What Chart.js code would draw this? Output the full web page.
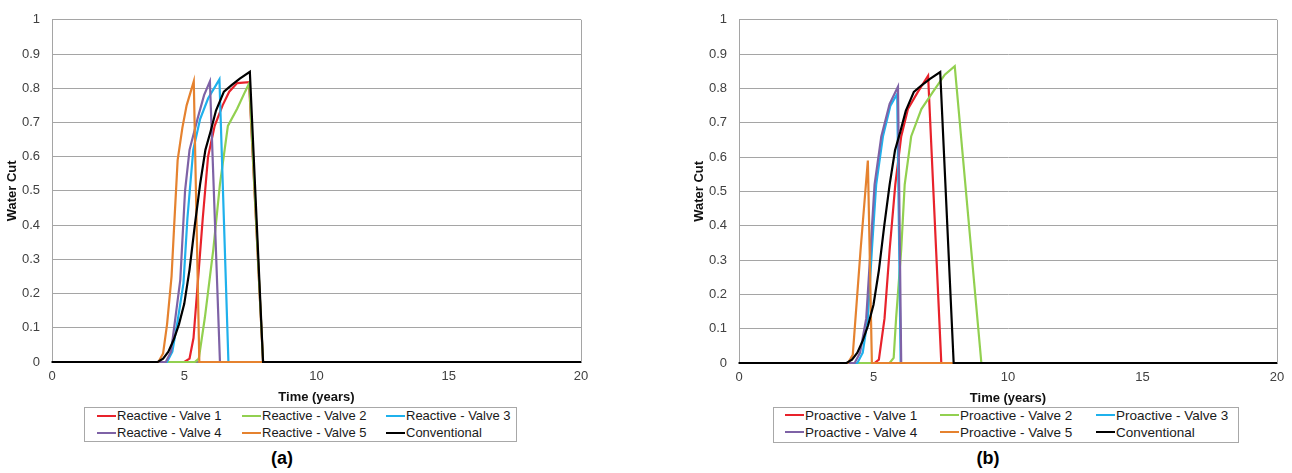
<!DOCTYPE html>
<html>
<head>
<meta charset="utf-8">
<script src="https://cdn.jsdelivr.net/npm/chart.js@4.4.1/dist/chart.umd.min.js"></script>
<style>
  body { margin: 0; background: #fff; width: 1292px; height: 473px; position: relative; overflow: hidden;
         font-family: "Liberation Sans", Arial, sans-serif; }
  canvas { position: absolute; top: 0; }
  .legend { position: absolute; top: 407px; border: 1px solid #a8a8a8; box-sizing: border-box; }
  .item { position: absolute; white-space: nowrap; color: #1a1a1a; line-height: 16px; }
  .item i { display: inline-block; width: 19px; height: 2px; vertical-align: middle; margin: 0 1px 2px 0; }
  .tag { position: absolute; top: 458px; font-weight: bold; font-size: 18px; transform: translate(-50%, -50%); }
</style>
</head>
<body>
<canvas id="chartA" width="600" height="405" style="left:0"></canvas>
<canvas id="chartB" width="605" height="406" style="left:687px"></canvas>
<div class="legend" id="legendA" style="left:84px; width:433px; height:35px; font-size:13px"></div>
<div class="legend" id="legendB" style="left:773px; width:466px; height:36px; font-size:13.5px"></div>
<div class="tag" style="left:282px">(a)</div>
<div class="tag" style="left:988px">(b)</div>
<script>
// conventional completion, shared by both panels
const convT  = [0, 4.0, 4.2, 4.4, 4.6, 4.8, 5.0, 5.2, 5.4, 5.6, 5.8, 6.0, 6.2, 6.5, 6.8, 7.1, 7.48, 7.98, 20];
const convWc = [0, 0, 0.01, 0.03, 0.065, 0.11, 0.17, 0.27, 0.40, 0.52, 0.62, 0.675, 0.735, 0.79, 0.81, 0.828, 0.848, 0, 0];

// reactive valve control
const reactiveT1  = [0, 5.0, 5.2, 5.35, 5.5, 5.7, 5.9, 6.15, 6.45, 6.7, 7.0, 7.45, 7.98, 20];
const reactiveWc1 = [0, 0, 0.01, 0.07, 0.22, 0.42, 0.60, 0.69, 0.75, 0.79, 0.815, 0.818, 0, 0];
const reactiveT2  = [0, 5.4, 5.55, 5.78, 6.1, 6.35, 6.65, 7.0, 7.3, 7.46, 7.98, 20];
const reactiveWc2 = [0, 0, 0.01, 0.13, 0.33, 0.52, 0.69, 0.74, 0.79, 0.815, 0, 0];
const reactiveT3  = [0, 4.35, 4.55, 4.75, 4.97, 5.12, 5.34, 5.6, 5.9, 6.33, 6.67, 20];
const reactiveWc3 = [0, 0, 0.03, 0.12, 0.23, 0.42, 0.62, 0.71, 0.77, 0.826, 0, 0];
const reactiveT4  = [0, 4.3, 4.5, 4.7, 4.85, 5.03, 5.2, 5.5, 5.75, 5.97, 6.35, 20];
const reactiveWc4 = [0, 0, 0.03, 0.15, 0.24, 0.50, 0.62, 0.71, 0.78, 0.82, 0, 0];
const reactiveT5  = [0, 4.02, 4.2, 4.35, 4.52, 4.62, 4.75, 4.93, 5.09, 5.36, 5.57, 20];
const reactiveWc5 = [0, 0, 0.025, 0.11, 0.25, 0.40, 0.59, 0.685, 0.75, 0.82, 0, 0];

// proactive valve control
const proactiveT1  = [0, 5.04, 5.2, 5.41, 5.6, 5.81, 6.03, 6.28, 6.65, 7.03, 7.52, 20];
const proactiveWc1 = [0, 0, 0.01, 0.13, 0.33, 0.52, 0.66, 0.74, 0.79, 0.837, 0, 0];
const proactiveT2  = [0, 5.6, 5.75, 5.84, 6.03, 6.16, 6.40, 6.78, 7.21, 7.65, 8.02, 9.01, 20];
const proactiveWc2 = [0, 0, 0.015, 0.13, 0.33, 0.52, 0.66, 0.74, 0.79, 0.84, 0.865, 0, 0];
const proactiveT3  = [0, 4.4, 4.6, 4.79, 4.94, 5.10, 5.35, 5.63, 5.88, 6.01, 20];
const proactiveWc3 = [0, 0, 0.03, 0.13, 0.33, 0.52, 0.66, 0.75, 0.784, 0, 0];
const proactiveT4  = [0, 4.3, 4.5, 4.73, 4.89, 5.04, 5.29, 5.60, 5.91, 6.03, 20];
const proactiveWc4 = [0, 0, 0.03, 0.13, 0.33, 0.52, 0.66, 0.755, 0.805, 0, 0];
const proactiveT5  = [0, 4.05, 4.23, 4.52, 4.79, 4.94, 20];
const proactiveWc5 = [0, 0, 0.024, 0.33, 0.59, 0, 0];

const reactiveLabels  = ["Reactive - Valve 1", "Reactive - Valve 2", "Reactive - Valve 3",
                         "Reactive - Valve 4", "Reactive - Valve 5", "Conventional"];
const proactiveLabels = ["Proactive - Valve 1", "Proactive - Valve 2", "Proactive - Valve 3",
                         "Proactive - Valve 4", "Proactive - Valve 5", "Conventional"];
const colors = ["#e8222b", "#92d050", "#1fb1ec", "#7e62a6", "#e5822f", "#000000"];

Chart.defaults.font.family = '"Liberation Sans", Arial, sans-serif';

function toPoints(ts, ws) {
	return ts.map((t, i) => ({ x: t, y: ws[i] }));
}

// right edge of the plot frame (top edge is the 1.0 gridline)
const framePlugin = {
	id: "frame",
	beforeDatasetsDraw(chart) {
		const { ctx, chartArea: a } = chart;
		const x = Math.round(a.right) + 0.5;
		ctx.save();
		ctx.strokeStyle = "#a5a5a5";
		ctx.lineWidth = 1;
		ctx.beginPath();
		ctx.moveTo(x, a.top);
		ctx.lineTo(x, a.bottom);
		ctx.stroke();
		ctx.restore();
	},
};

function buildChart(id, labels, times, values, top, right, fontSize) {
	const datasets = labels.map((label, i) => ({
		label: label,
		data: toPoints(times[i], values[i]),
		borderColor: colors[i],
		backgroundColor: colors[i],
		borderWidth: 2.2,
		pointRadius: 0,
		tension: 0,
		clip: 4,
		order: labels.length - i, // later series drawn on top
	}));

	return new Chart(document.getElementById(id), {
		type: "line",
		data: { datasets: datasets },
		options: {
			responsive: false,
			animation: false,
			layout: { padding: { top: top, right: right, left: 0, bottom: 0 } },
			plugins: { legend: { display: false }, tooltip: { enabled: false } },
			scales: {
				x: {
					type: "linear",
					min: 0,
					max: 20,
					ticks: { stepSize: 5, padding: 7, maxRotation: 0, color: "#404040", font: { size: fontSize } },
					grid: { display: false, drawTicks: false },
					border: { color: "#858585", width: 2 },
					title: {
						display: true,
						text: "Time (years)",
						color: "#111",
						font: { size: fontSize, weight: "bold" },
						padding: 0,
					},
					afterFit: (s) => { s.height = 43; },
				},
				y: {
					min: 0,
					max: 1,
					ticks: {
						stepSize: 0.1,
						padding: 12,
						color: "#404040",
						font: { size: fontSize },
						callback: (v) => String(+v.toFixed(1)), // 1, 0.9 ... 0
					},
					grid: { color: "#a5a5a5", drawTicks: false },
					border: { color: "#a5a5a5", width: 1 },
					title: {
						display: true,
						text: "Water Cut",
						color: "#111",
						font: { size: fontSize, weight: "bold" },
						padding: { top: 5, bottom: 0 },
					},
					afterFit: (s) => { s.width = 52; },
				},
			},
		},
		plugins: [framePlugin],
	});
}

function buildLegend(boxId, chart, cols) {
	const box = document.getElementById(boxId);
	chart.data.datasets.forEach((ds, i) => {
		const el = document.createElement("div");
		el.className = "item";
		el.style.left = cols[i % 3] + "px";
		el.style.top = (i < 3 ? 0 : 17) + "px";
		el.innerHTML = `<i style="background:${ds.borderColor}"></i>${ds.label}`;
		box.appendChild(el);
	});
}

const chartA = buildChart(
	"chartA",
	reactiveLabels,
	[reactiveT1, reactiveT2, reactiveT3, reactiveT4, reactiveT5, convT],
	[reactiveWc1, reactiveWc2, reactiveWc3, reactiveWc4, reactiveWc5, convWc],
	19, 19, 13
);
const chartB = buildChart(
	"chartB",
	proactiveLabels,
	[proactiveT1, proactiveT2, proactiveT3, proactiveT4, proactiveT5, convT],
	[proactiveWc1, proactiveWc2, proactiveWc3, proactiveWc4, proactiveWc5, convWc],
	14, 15, 13
);

buildLegend("legendA", chartA, [12, 157, 301]);
buildLegend("legendB", chartB, [11, 166, 322]);
</script>
</body>
</html>
